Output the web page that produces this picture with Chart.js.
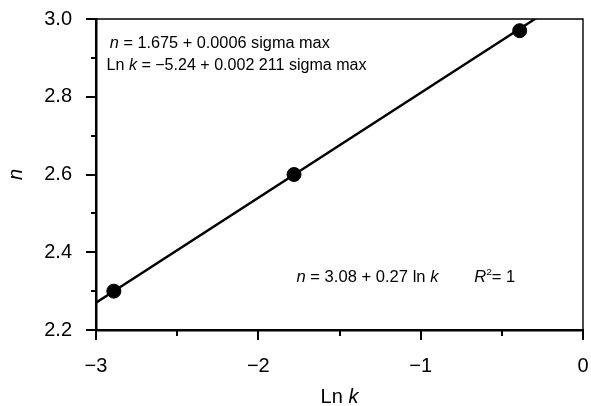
<!DOCTYPE html>
<html lang="en">
<head>
  <meta charset="UTF-8" />
  <title>n vs Ln k</title>
  <script src="https://cdn.jsdelivr.net/npm/chart.js"></script>
  <style>
    html, body { margin: 0; padding: 0; background: #fff; }
    #wrap { width: 591px; height: 406px; position: relative; }
  </style>
</head>
<body>
  <div id="wrap"><canvas id="chart"></canvas></div>

  <script>
    // measured points
    const lnK = [-2.89, -1.78, -0.39];
    const nVals = [2.30, 2.60, 2.97];

    // fitted line n = 3.08 + 0.27 ln k, end points (clipped by the frame)
    const fitX = [-3, 0];
    const fitY = [2.27, 3.08];

    const xMin = -3, xMax = 0, xStep = 0.5;
    const yMin = 2.2, yMax = 3.0, yStep = 0.1;

    const FONT = "'Liberation Sans', Arial, Helvetica, sans-serif";

    // text runs: [text, italic, superscript]; squeezed to width w if given
    function drawRuns(ctx, x, y, size, runs, w) {
      const fontOf = (it, sup) => (it ? 'italic ' : '') + (sup ? size * 0.62 : size) + 'px ' + FONT;
      let natural = 0;
      runs.forEach(([t, it, sup]) => {
        ctx.font = fontOf(it, sup);
        natural += ctx.measureText(t).width;
      });
      const sx = w ? w / natural : 1;
      ctx.save();
      ctx.translate(x, y);
      ctx.scale(sx, 1);
      let cx = 0;
      runs.forEach(([t, it, sup]) => {
        ctx.font = fontOf(it, sup);
        ctx.fillText(t, cx, sup ? -size * 0.42 : 0);
        cx += ctx.measureText(t).width;
      });
      ctx.restore();
    }

    const framePlugin = {
      id: 'frame',
      afterDraw(chart) {
        const ctx = chart.ctx;
        const a = chart.chartArea;
        const xs = chart.scales.x, ys = chart.scales.y;
        ctx.save();
        ctx.strokeStyle = '#000';
        ctx.fillStyle = '#000';

        // thin top and right borders
        ctx.lineWidth = 1.4;
        ctx.beginPath();
        ctx.moveTo(a.left, a.top);
        ctx.lineTo(a.right, a.top);
        ctx.lineTo(a.right, a.bottom);
        ctx.stroke();

        // tick marks, long on labelled values, short in between
        ctx.lineWidth = 2;
        ys.ticks.forEach(t => {
          const major = Math.round(t.value * 10) % 2 === 0;
          const py = Math.round(ys.getPixelForValue(t.value));
          ctx.beginPath();
          ctx.moveTo(a.left - (major ? 10 : 5), py);
          ctx.lineTo(a.left, py);
          ctx.stroke();
        });
        xs.ticks.forEach(t => {
          const major = Number.isInteger(Math.round(t.value * 100) / 100);
          const px = Math.round(xs.getPixelForValue(t.value));
          ctx.beginPath();
          ctx.moveTo(px, a.bottom);
          ctx.lineTo(px, a.bottom + (major ? 10 : 6));
          ctx.stroke();
        });

        // axis titles
        ctx.textBaseline = 'alphabetic';
        ctx.textAlign = 'left';
        ctx.font = '20px ' + FONT;
        const w1 = ctx.measureText('Ln ').width;
        ctx.font = 'italic 20px ' + FONT;
        const w2 = ctx.measureText('k').width;
        const cxm = (a.left + a.right) / 2;
        drawRuns(ctx, cxm - (w1 + w2) / 2, 403, 20, [['Ln ', false], ['k', true]]);

        ctx.save();
        ctx.translate(22, (a.top + a.bottom) / 2);
        ctx.rotate(-Math.PI / 2);
        ctx.textAlign = 'center';
        ctx.font = 'italic 20px ' + FONT;
        ctx.fillText('n', 0, 0);
        ctx.restore();

        // equations
        ctx.textAlign = 'left';
        const px = v => xs.getPixelForValue(v);
        const py = v => ys.getPixelForValue(v);
        drawRuns(ctx, px(-2.915), py(2.925), 16,
          [['n', true], [' = 1.675 + 0.0006 sigma max', false]], 220);
        drawRuns(ctx, px(-2.935), py(2.868), 16,
          [['Ln ', false], ['k', true], [' = \u22125.24 + 0.002 211 sigma max', false]], 260);
        drawRuns(ctx, px(-1.765), py(2.323), 16,
          [['n', true], [' = 3.08 + 0.27 ln ', false], ['k', true]], 142);
        drawRuns(ctx, px(-0.67), py(2.323), 16,
          [['R', true], ['2', false, true], ['= 1', false]], 41);

        ctx.restore();
      }
    };

    new Chart(document.getElementById('chart'), {
      type: 'scatter',
      data: {
        datasets: [
          {
            type: 'line',
            data: fitX.map((x, i) => ({ x, y: fitY[i] })),
            borderColor: '#000',
            borderWidth: 2.4,
            pointRadius: 0,
            fill: false,
            clip: 0
          },
          {
            data: lnK.map((x, i) => ({ x, y: nVals[i] })),
            backgroundColor: '#000',
            borderColor: '#000',
            pointRadius: 7,
            pointHoverRadius: 7
          }
        ]
      },
      plugins: [framePlugin],
      options: {
        responsive: true,
        maintainAspectRatio: false,
        animation: false,
        events: [],
        layout: { padding: { top: 19, right: 7, left: 0, bottom: 0 } },
        plugins: { legend: { display: false }, tooltip: { enabled: false } },
        scales: {
          x: {
            type: 'linear',
            min: xMin, max: xMax,
            afterFit: s => { s.height = 76; s.paddingLeft = 0; s.paddingRight = 0; },
            grid: { display: false, drawTicks: false },
            border: { display: true, color: '#000', width: 2.5 },
            ticks: {
              stepSize: xStep,
              autoSkip: false,
              maxRotation: 0,
              padding: 24,
              color: '#000',
              font: { family: FONT, size: 20 },
              callback: v => {
                const r = Math.round(v * 100) / 100;
                if (!Number.isInteger(r)) return '';
                return r < 0 ? '\u2212' + Math.abs(r) : String(Math.abs(r));
              }
            }
          },
          y: {
            type: 'linear',
            min: yMin, max: yMax,
            afterFit: s => { s.width = 96; s.paddingTop = 0; s.paddingBottom = 0; },
            grid: { display: false, drawTicks: false },
            border: { display: true, color: '#000', width: 2.5 },
            ticks: {
              stepSize: yStep,
              autoSkip: false,
              padding: 24,
              color: '#000',
              font: { family: FONT, size: 20 },
              callback: v => Math.round(v * 10) % 2 === 0 ? v.toFixed(1) : ''
            }
          }
        }
      }
    });
  </script>
</body>
</html>
